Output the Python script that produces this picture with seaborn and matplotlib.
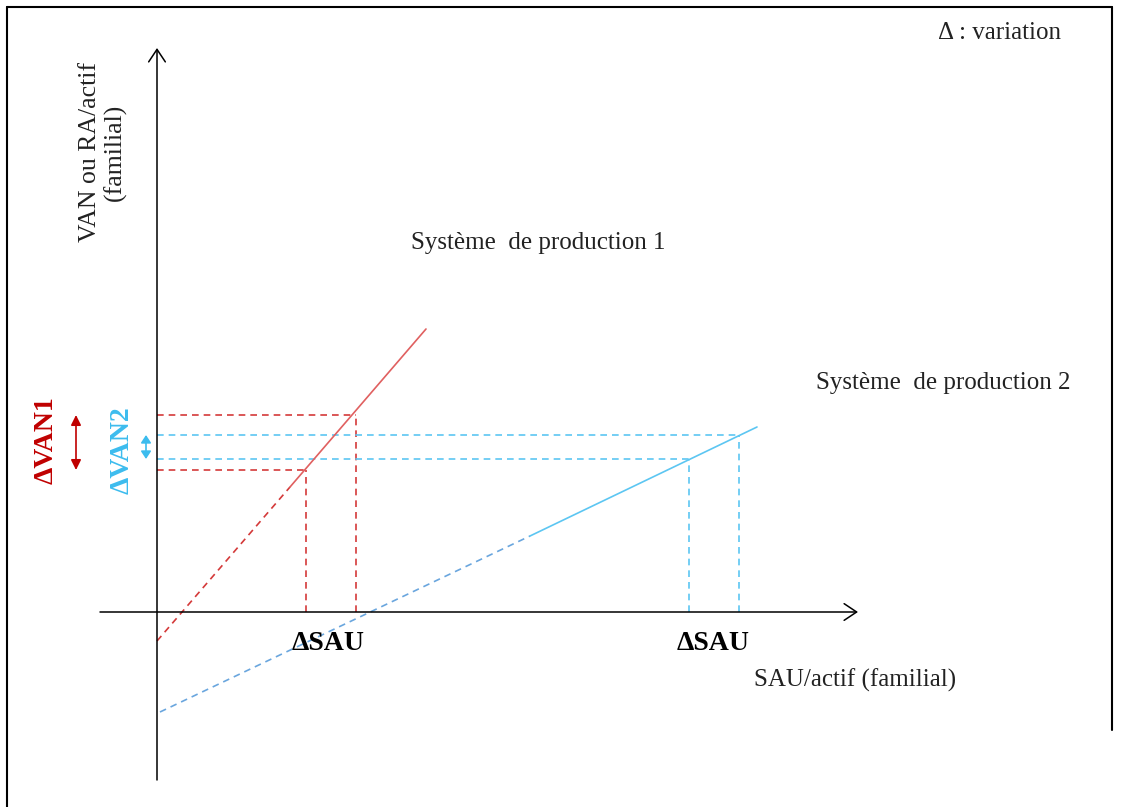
import matplotlib
matplotlib.use("Agg")
import matplotlib.pyplot as plt
import seaborn as sns
from matplotlib.lines import Line2D

sns.set_theme(style="white")
plt.rcParams['font.family'] = ['Liberation Serif', 'DejaVu Serif']

# diagram units: origin where the two axes cross
# systeme de production 1 (dashed part, then solid part)
sys1_dash_x = [0, 133]
sys1_dash_y = [-29, 125]
sys1_solid_x = [133, 269]
sys1_solid_y = [125, 283]
sau1 = [149, 199]
van1 = [142, 197]

# systeme de production 2
sys2_dash_x = [3, 373]
sys2_dash_y = [-100, 76]
sys2_solid_x = [373, 600]
sys2_solid_y = [76, 185]
sau2 = [532, 582]
van2 = [153, 177]

x_axis = [-57, 701]
y_axis = [-168, 564]

red_line = '#e06060'
red_dash = '#d43a3a'
red_text = '#c00000'
blue_line = '#5cc6f2'
blue_dash = '#6aa6de'
blue_text = '#3cbcee'

fig = plt.figure(figsize=(11.21, 8.07), dpi=100)
ax = fig.add_axes([0, 0, 1, 1])
ax.set_xlim(-157, 964)
ax.set_ylim(-195, 612)
ax.axis('off')

# frame
fig.add_artist(Line2D([7 / 1121, 7 / 1121], [0, 1 - 7 / 807], color='black', lw=1.5))
fig.add_artist(Line2D([7 / 1121, 1112 / 1121], [1 - 7 / 807, 1 - 7 / 807], color='black', lw=1.5))
fig.add_artist(Line2D([1112 / 1121, 1112 / 1121], [1 - 7 / 807, 1 - 730 / 807], color='black', lw=1.5))

# axes with open arrow heads
arrow = dict(arrowstyle='->,head_length=0.75,head_width=0.5', color='black', lw=1.1,
             shrinkA=0, shrinkB=0)
ax.annotate('', xy=(x_axis[1], 0), xytext=(x_axis[0], 0), arrowprops=arrow)
ax.annotate('', xy=(0, y_axis[1]), xytext=(0, y_axis[0]), arrowprops=arrow)

dash = (4, 3)

# guide lines system 1
for sx, vy in zip(sau1, van1):
    ax.plot([0, sx], [vy, vy], color=red_dash, lw=1.2, dashes=dash)
    ax.plot([sx, sx], [0, vy], color=red_dash, lw=1.2, dashes=dash)

# guide lines system 2
for sx, vy in zip(sau2, van2):
    ax.plot([0, sx], [vy, vy], color=blue_line, lw=1.2, dashes=dash)
    ax.plot([sx, sx], [0, vy], color=blue_line, lw=1.2, dashes=dash)

# production lines
sns.lineplot(x=sys1_dash_x, y=sys1_dash_y, color=red_dash, lw=1.2, ax=ax,
             linestyle=(0, dash))
sns.lineplot(x=sys1_solid_x, y=sys1_solid_y, color=red_line, lw=1.2, ax=ax)
sns.lineplot(x=sys2_dash_x, y=sys2_dash_y, color=blue_dash, lw=1.2, ax=ax,
             linestyle=(0, dash))
sns.lineplot(x=sys2_solid_x, y=sys2_solid_y, color=blue_line, lw=1.2, ax=ax)

# double arrows for the VAN variations
ax.annotate('', xy=(-81, van1[1]), xytext=(-81, van1[0]),
            arrowprops=dict(arrowstyle='<|-|>,head_length=0.5,head_width=0.25',
                            color=red_text, lw=1.2, shrinkA=0, shrinkB=0))
ax.annotate('', xy=(-11, van2[1]), xytext=(-11, van2[0]),
            arrowprops=dict(arrowstyle='<|-|>,head_length=0.38,head_width=0.25',
                            color=blue_text, lw=1.2, shrinkA=0, shrinkB=0))

# texts
ax.text(-111, 172, 'ΔVAN1', rotation=90, ha='center', va='center', fontsize=20,
        fontweight='bold', color=red_text)
ax.text(-35, 162, 'ΔVAN2', rotation=90, ha='center', va='center', fontsize=20,
        fontweight='bold', color=blue_text)
ax.text(171, -31, 'ΔSAU', ha='center', va='center', fontsize=20, fontweight='bold',
        color='black')
ax.text(556, -31, 'ΔSAU', ha='center', va='center', fontsize=20, fontweight='bold',
        color='black')
ax.text(381, 369, 'Système  de production 1', ha='center', va='center', fontsize=18,
        color='#222222')
ax.text(786, 229, 'Système  de production 2', ha='center', va='center', fontsize=18,
        color='#222222')
ax.text(843, 579, 'Δ : variation', ha='center', va='center', fontsize=18, color='#222222')
ax.text(698, -68, 'SAU/actif (familial)', ha='center', va='center', fontsize=18,
        color='#222222')
ax.text(-54, 460, 'VAN ou RA/actif\n(familial)', rotation=90, ha='center', va='center',
        fontsize=18.5, color='#222222', linespacing=1.15)

fig.savefig('out.png', dpi=100, facecolor='white')
